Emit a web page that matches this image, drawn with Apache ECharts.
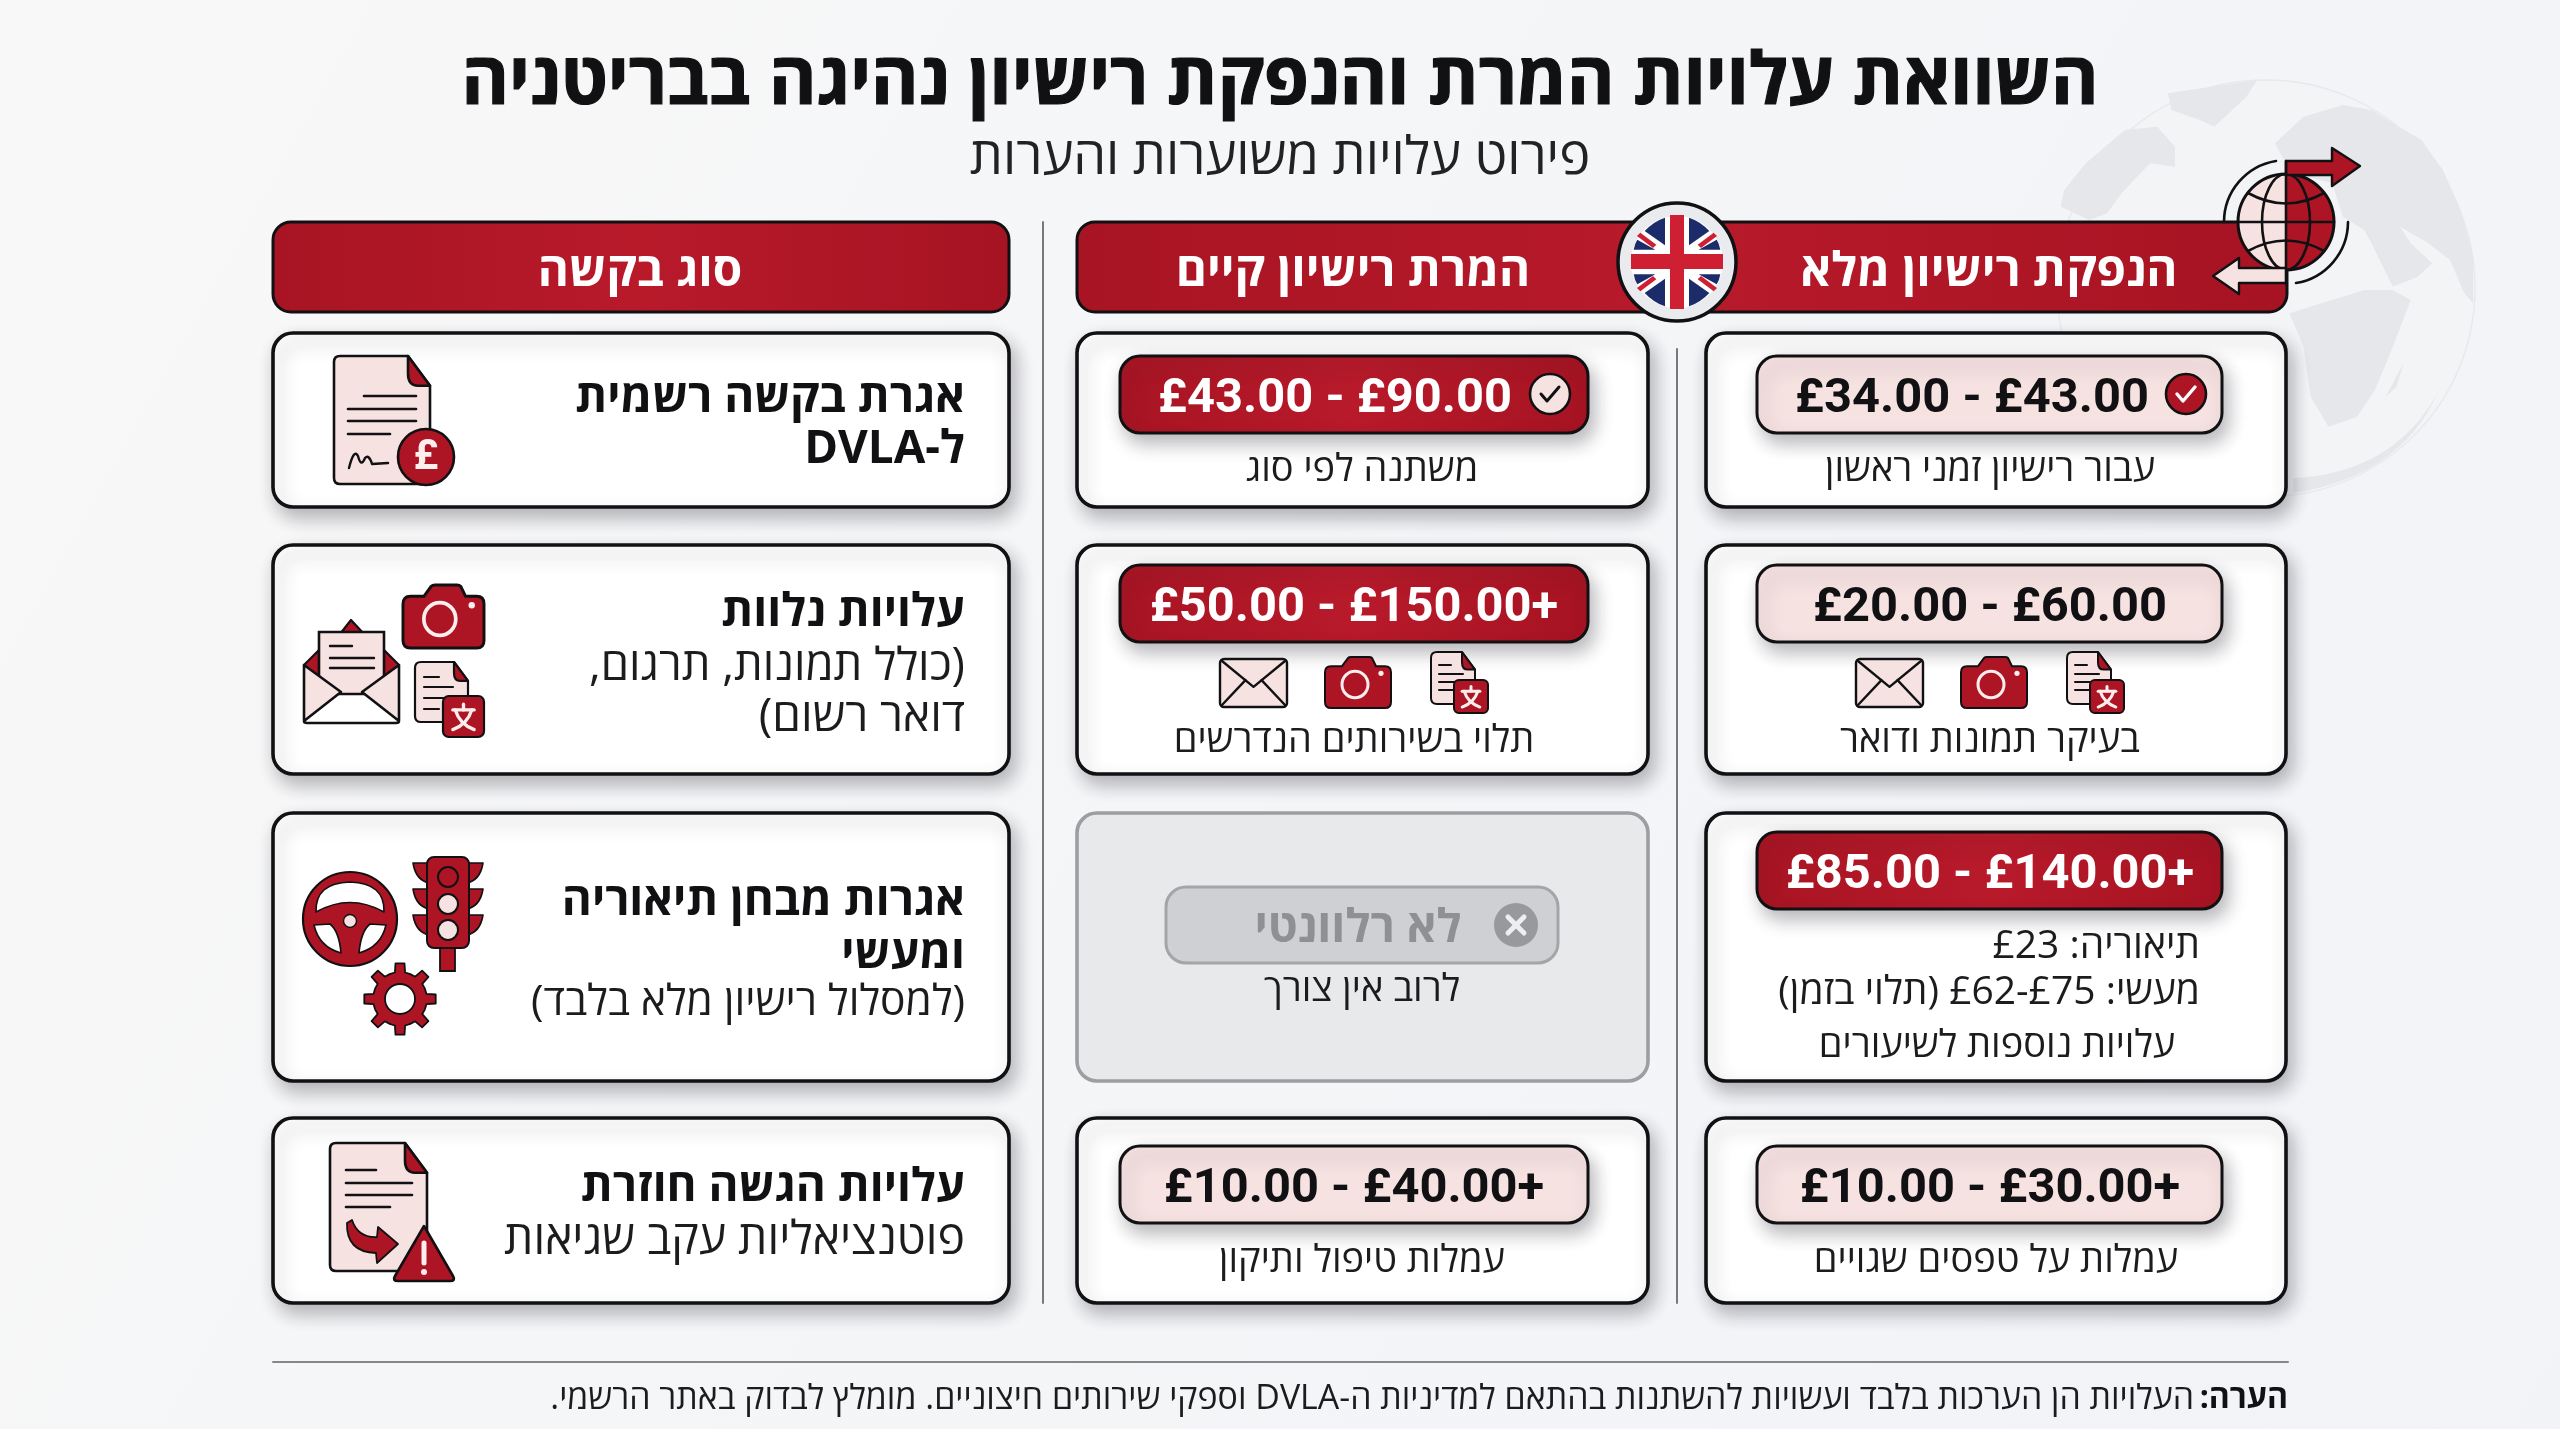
<!DOCTYPE html>
<html lang="he">
<head>
<meta charset="utf-8">
<title>השוואת עלויות</title>
<style>html,body{margin:0;padding:0;background:#f5f6f8}#c{width:2560px;height:1429px}</style>
<script src="https://cdn.jsdelivr.net/npm/echarts@6/dist/echarts.min.js"></script>
</head>
<body>
<div id="c"></div>
<script>
// ---------- content ----------
const titleText = 'השוואת עלויות המרת והנפקת רישיון נהיגה בבריטניה';
const subtitleText = 'פירוט עלויות משוערות והערות';
const columnHeaders = ['סוג בקשה', 'המרת רישיון קיים', 'הנפקת רישיון מלא'];
const requestTitles = [['אגרת בקשה רשמית', 'ל-DVLA'], ['עלויות נלוות'], ['אגרות מבחן תיאוריה', 'ומעשי'], ['עלויות הגשה חוזרת']];
const requestNotes = [[], ['(כולל תמונות, תרגום,', 'דואר רשום)'], ['(למסלול רישיון מלא בלבד)'], ['פוטנציאליות עקב שגיאות']];
const conversionCosts = ['£43.00 - £90.00', '£50.00 - £150.00+', 'לא רלוונטי', '£10.00 - £40.00+'];
const conversionNotes = ['משתנה לפי סוג', 'תלוי בשירותים הנדרשים', 'לרוב אין צורך', 'עמלות טיפול ותיקון'];
const fullCosts = ['£34.00 - £43.00', '£20.00 - £60.00', '£85.00 - £140.00+', '£10.00 - £30.00+'];
const fullNotes = ['עבור רישיון זמני ראשון', 'בעיקר תמונות ודואר', 'עלויות נוספות לשיעורים', 'עמלות על טפסים שגויים'];
const fullExamLines = ['תיאוריה: £23', 'מעשי: £62-£75 (תלוי בזמן)'];
const noteLabel = 'הערה:';
const noteText = 'העלויות הן הערכות בלבד ועשויות להשתנות בהתאם למדיניות ה-DVLA וספקי שירותים חיצוניים. מומלץ לבדוק באתר הרשמי.';

// ---------- style ----------
const HE = '"Open Sans","Liberation Sans",sans-serif';
const NUM = 'Roboto,"Liberation Sans",sans-serif';
const INK = '#111114', RED = '#ae1524', PINK = '#f7e2e2', GREYT = '#8f9094';
const SHADOW = {shadowBlur: 18, shadowOffsetX: 5, shadowOffsetY: 9, shadowColor: 'rgba(40,40,50,.32)'};
const redFill = {type: 'linear', x: 0, y: 0, x2: 1, y2: 0, colorStops: [{offset: 0, color: '#a81423'}, {offset: .5, color: '#b81a2a'}, {offset: 1, color: '#a61322'}]};

// layout of the grid
const colX = [[273, 736], [1077, 571], [1706, 580]];
const rowY = [[333, 174], [545, 229], [813, 268], [1118, 185]];

// ---------- helpers ----------
const E = [];
const pathNames = {};
let pathCount = 0;
function pathType(d) {
  if (!pathNames[d]) {
    pathNames[d] = 'svgp' + (pathCount++);
    echarts.graphic.registerShape(pathNames[d], echarts.graphic.extendPath(d));
  }
  return pathNames[d];
}
const bidi = s => /[^\u0590-\u05FF ]/.test(s) && /[\u0590-\u05FF]/.test(s)
  ? '\u202B' + s.replace(/£\d+-£\d+/, m => '\u202A' + m + '\u202C') + '\u202C' : s;
const txt = (s, x, y, size, o = {}) => ({type: 'text', style: Object.assign({text: bidi(s), x, y, fill: o.fill || INK, fontSize: size, fontWeight: o.w || 'normal', fontFamily: o.f || HE, align: o.a || 'center', verticalAlign: 'middle'}, o.heavy ? {stroke: o.fill || INK, lineWidth: o.heavy} : {})});
const rect = (x, y, w, h, r, fill, stroke, lw, extra) => ({type: 'rect', shape: {x, y, width: w, height: h, r}, style: Object.assign({fill, stroke, lineWidth: lw}, extra || {})});
const circ = (cx, cy, r, fill, stroke, lw) => ({type: 'circle', shape: {cx, cy, r}, style: {fill, stroke, lineWidth: lw || 0}});
const path = (d, fill, stroke, lw, extra) => ({type: pathType(d), style: Object.assign({fill: fill || 'none', stroke: stroke || 'none', lineWidth: lw || 0, lineJoin: 'round', lineCap: 'round'}, extra || {})});
const line = (x1, y1, x2, y2, c, lw) => ({type: 'line', shape: {x1, y1, x2, y2}, style: {stroke: c, lineWidth: lw, lineCap: 'round'}});
const grp = (x, y, children, sx, sy) => ({type: 'group', x, y, scaleX: sx == null ? 1 : sx, scaleY: sy == null ? (sx == null ? 1 : sx) : sy, children});

function docShape(w, h, f, lines, lw) {
  const r = 6;
  const kids = [
    path(`M${r} 0 L${w - f} 0 L${w} ${f * 1.35} L${w} ${h - r} Q${w} ${h} ${w - r} ${h} L${r} ${h} Q0 ${h} 0 ${h - r} L0 ${r} Q0 0 ${r} 0 Z`, PINK, INK, lw),
    path(`M${w - f} 0 L${w} ${f * 1.35} L${w - f * .55} ${f * 1.35} Q${w - f} ${f * 1.35} ${w - f} ${f * .8} Z`, RED, INK, lw)
  ];
  lines.forEach(l => kids.push(line(l[0], l[2], l[1], l[2], INK, lw)));
  return kids;
}
function transBadge(x, y, w, h, lw) {
  return grp(x, y, [
    rect(0, 0, w, h, w * .14, RED, INK, lw),
    line(w * .24, h * .34, w * .76, h * .34, '#fdeeee', lw * 1.5),
    line(w * .5, h * .2, w * .5, h * .34, '#fdeeee', lw * 1.5),
    path(`M${w * .7} ${h * .34} Q${w * .6} ${h * .68} ${w * .24} ${h * .82}`, 'none', '#fdeeee', lw * 1.5),
    path(`M${w * .3} ${h * .34} Q${w * .4} ${h * .68} ${w * .76} ${h * .82}`, 'none', '#fdeeee', lw * 1.5)
  ]);
}
function smallDoc(x, y) {
  return grp(x, y, docShape(44, 52, 13, [[8, 20, 13], [8, 32, 22], [8, 30, 30], [8, 22, 38]], 2).concat([transBadge(23, 28, 34, 33, 2)]));
}
function camera(x, y, w, h, lw) {
  const u = w / 66, v = h / 50;
  return grp(x, y, [
    path('M6 9 L17 9 L23 1 Q24 0 26 0 L44 0 Q46 0 47 1 L51 9 L60 9 Q66 9 66 15 L66 44 Q66 50 60 50 L6 50 Q0 50 0 44 L0 15 Q0 9 6 9 Z', RED, INK, lw),
    circ(30, 27, 13, 'none', '#fdeeee', 3),
    circ(56, 16, 2.6, '#fdeeee')
  ], u, v);
}
function envelope(x, y, w, h, lw) {
  return grp(x, y, [
    rect(0, 0, w, h, 4, PINK, INK, lw),
    path(`M2 2 L${w / 2} ${h * .58} L${w - 2} 2`, 'none', INK, lw),
    line(2, h - 2, w * .38, h * .44, INK, lw),
    line(w - 2, h - 2, w * .62, h * .44, INK, lw)
  ]);
}
function serviceIcons(dx) {
  return [envelope(1220 + dx, 659, 67, 48, 2.4), camera(1325 + dx, 657, 66, 51, 2), smallDoc(1431 + dx, 652)];
}
function gearPath(R, r) {
  let d = '';
  const n = 8;
  for (let i = 0; i < n; i++) {
    const a = i / n * Math.PI * 2, s = Math.PI * 2 / n;
    const pts = [[a - s * .5, r], [a - s * .24, r], [a - s * .16, R], [a + s * .16, R], [a + s * .24, r]];
    pts.forEach((p, j) => { d += (i === 0 && j === 0 ? 'M' : 'L') + (Math.cos(p[0]) * p[1]).toFixed(1) + ' ' + (Math.sin(p[0]) * p[1]).toFixed(1) + ' '; });
  }
  return d + 'Z';
}

// ---------- background ----------
E.push(rect(0, 0, 2560, 1429, 0, {type: 'linear', x: 0, y: 0, x2: 1, y2: 1, colorStops: [{offset: 0, color: '#f8f8f8'}, {offset: 1, color: '#f1f3f7'}]}));
const LAND = '#e6e7eb';
E.push(grp(2000, 30, [
  {type: 'ellipse', shape: {cx: 745, cy: 775, rx: 585, ry: 625}, style: {fill: '#f3f4f6', stroke: '#e8e9ec', lineWidth: 4}},
  path('M850 260 L960 225 L1040 240 L1100 280 L1180 330 L1240 420 L1290 540 L1325 680 L1325 820 L1300 790 L1260 690 L1200 640 L1120 590 L1150 640 L1210 700 L1170 740 L1100 770 L1040 640 L1020 600 L960 560 L930 460 L860 440 L800 400 L770 340 Z', LAND),
  path('M810 850 L1020 780 L1100 780 L1150 810 L1100 950 L1050 1080 L1000 1160 L920 1190 L870 1100 L850 950 Z', LAND),
  path('M470 190 L720 150 L690 200 L600 290 L560 270 L480 240 Z', LAND),
  path('M350 300 L440 290 L490 350 L490 410 L420 400 L340 490 L300 550 L250 570 L170 530 L180 480 L240 400 Z', LAND),
  path('M1130 1000 L1080 1100 L1110 1070 Z', LAND),
  path('M820 1390 Q1120 1340 1225 1090 Q1100 1330 820 1345 Z', LAND)
], 1 / 2.8, 1 / 3));

// ---------- title ----------
E.push(txt(titleText, 1280, 83, 72.3, {w: 'bold', heavy: 1.2}));
E.push(txt(subtitleText, 1280, 159, 52.3, {fill: '#222'}));

// ---------- dividers ----------
E.push(line(1043, 222, 1043, 1303, '#77797e', 2));
E.push(line(1677, 349, 1677, 1303, '#77797e', 2));

// ---------- headers ----------
E.push(rect(273, 222, 736, 90, 18, redFill, INK, 3));
E.push(rect(1077, 222, 1210, 90, 18, redFill, INK, 3));
E.push(txt(columnHeaders[0], 640, 272, 47.5, {w: 'bold', fill: '#fff'}));
E.push(txt(columnHeaders[1], 1353, 272, 47.5, {w: 'bold', fill: '#fff'}));
E.push(txt(columnHeaders[2], 1989, 272, 47.5, {w: 'bold', fill: '#fff'}));

// UK flag badge
const quad = (sx, sy) => grp(0, 0, [
  path('M-36 -133 Q-70 -122 -97 -93 L-36 -50 Z', '#1c2c6b'),
  path('M-130 -37 L-65 -37 L-119 -67 Q-127 -55 -130 -37 Z', '#1c2c6b'),
  path('M-120 -78 L-110 -88 L-62 -52 L-72 -42 Z', '#cf1f33')
], sx, sy);
E.push(grp(1677, 262, [
  circ(0, 0, 59, '#e9ebef', INK, 3.5),
  circ(0, 0, 46, '#ffffff'),
  grp(0, 0, [quad(1, 1), quad(-1, 1), quad(1, -1), quad(-1, -1)], 1 / 3),
  rect(-46, -8, 92, 15, 0, '#cf1f33'),
  rect(-7, -47, 14, 94, 0, '#cf1f33')
]));

// globe badge
E.push(grp(2286, 222, [
  path('M0 -48 A48 48 0 0 0 0 48 Z', PINK),
  path('M0 -48 A48 48 0 0 1 0 48 Z', RED),
  circ(0, 0, 48, 'none', INK, 3),
  {type: 'ellipse', shape: {cx: 0, cy: 0, rx: 24, ry: 48}, style: {fill: 'none', stroke: INK, lineWidth: 2.6}},
  line(-48, 0, 48, 0, INK, 2.6),
  path('M-38 -29 Q0 -8 38 -29', 'none', INK, 2.6),
  path('M-38 29 Q0 8 38 29', 'none', INK, 2.6),
  path('M-62 0 A62 62 0 0 1 -10 -61', 'none', INK, 2.6),
  path('M62 0 A62 62 0 0 1 10 61', 'none', INK, 2.6),
  path('M0 -61 L46 -61 L46 -74 L74 -56 L46 -36 L46 -47 L0 -47 Z', RED, INK, 2.4),
  path('M0 46 L-47 46 L-47 36 L-73 54 L-47 72 L-47 61 L0 61', PINK, INK, 2.4),
  line(0, -61, 0, 62, INK, 2.6)
]));

// ---------- cards ----------
rowY.forEach((r, i) => {
  E.push(rect(colX[0][0], r[0], colX[0][1], r[1], 20, '#fff', INK, 3.6, SHADOW));
  const grey = i === 2;
  E.push(rect(colX[1][0], r[0], colX[1][1], r[1], 20, grey ? '#e8e9eb' : '#fff', grey ? '#9c9ea2' : INK, 3.6, grey ? {} : SHADOW));
  E.push(rect(colX[2][0], r[0], colX[2][1], r[1], 20, '#fff', INK, 3.6, SHADOW));
});

// ---------- request column text ----------
const R = 965, titleY = [[399, 450], [613], [902, 955], [1188]], noteY = [[], [667, 718], [1003], [1241]];
const noteSize = [[], [45.4, 46], [42.5], [46.3]];
requestTitles.forEach((t, i) => t.forEach((s, j) => E.push(txt(s, R, titleY[i][j], 45.8, {w: 'bold', a: 'right'}))));
requestNotes.forEach((t, i) => t.forEach((s, j) => E.push(txt(s, R, noteY[i][j], noteSize[i][j], {a: 'right', fill: '#1c1c1f'}))));

// ---------- price pills ----------
const pillY = [[356, 77], [565, 77], [832, 77], [1146, 77]];
const midPill = [1120, 468], fullPill = [1757, 465];
const midTone = ['red', 'red', null, 'pink'], fullTone = ['pink', 'pink', 'red', 'pink'];
function pill(box, yh, tone, label, cx) {
  const red = tone === 'red';
  E.push(rect(box[0], yh[0], box[1], yh[1], 20, red ? redFill : PINK, INK, 3, SHADOW));
  E.push(txt(label, cx, yh[0] + yh[1] / 2 + 5, 48.8, {w: 'bold', f: NUM, fill: red ? '#fff' : INK}));
}
conversionCosts.forEach((c, i) => { if (midTone[i]) pill(midPill, pillY[i], midTone[i], c, i === 0 ? 1335 : 1354); });
fullCosts.forEach((c, i) => pill(fullPill, pillY[i], fullTone[i], c, i === 0 ? 1972 : 1990));

// check marks
E.push(grp(1550, 394, [circ(0, 0, 20, PINK, INK, 2.6), path('M-9 0 L-3 7 L9 -7', 'none', INK, 3)]));
E.push(grp(2186, 394, [circ(0, 0, 20, RED, INK, 2.6), path('M-9 0 L-3 7 L9 -7', 'none', '#fff', 3.4)]));

// not relevant pill
E.push(rect(1166, 887, 392, 76, 20, '#cfd0d3', '#a3a5a8', 3));
E.push(txt(conversionCosts[2], 1358, 929, 46, {w: 'bold', fill: GREYT}));
E.push(grp(1516, 925, [circ(0, 0, 22, '#98999d'), line(-8, -8, 8, 8, '#eeeef0', 5), line(8, -8, -8, 8, '#eeeef0', 5)]));

// ---------- sub notes ----------
const subSize = 38;
const midX = [1362, 1354, 1362, 1362], midY = [470, 741, 990, 1261];
conversionNotes.forEach((s, i) => E.push(txt(s, midX[i], midY[i], subSize, {fill: '#1c1c1f'})));
const fullX = [1990, 1990, 1997, 1996], fullY = [470, 741, 1046, 1261];
fullNotes.forEach((s, i) => E.push(txt(s, fullX[i], fullY[i], subSize, {fill: '#1c1c1f'})));
fullExamLines.forEach((s, i) => E.push(txt(s, 2200, [947, 993][i], 39, {a: 'right', fill: '#1c1c1f'})));

// service icons rows
E.push(...serviceIcons(0), ...serviceIcons(636));

// ---------- left column icons ----------
// row 1: document with pound
E.push(grp(334, 356, docShape(96, 128, 22, [[30, 82, 40], [14, 82, 53], [14, 82, 65], [14, 56, 78]], 2.6).concat([
  path('M15 112 Q20 92 24 100 Q27 112 31 102 Q35 98 38 108 L54 107', 'none', INK, 2.4)
])));
E.push(circ(426, 457, 28, RED, INK, 2.6));
E.push(txt('£', 426, 458, 42, {w: 'bold', f: NUM, fill: '#fdeeee'}));

// row 2: envelope, camera, document
E.push(grp(304, 620, [
  path('M47 0 L60 14 L36 14 Z', RED, INK, 2.2),
  path('M0 45 L15 30 L15 60 Z', RED, INK, 2.2),
  path('M95 45 L80 30 L80 60 Z', RED, INK, 2.2),
  rect(15, 12, 65, 62, 0, PINK, INK, 2.6),
  line(26, 26, 48, 26, INK, 2.4), line(26, 38, 70, 38, INK, 2.4), line(26, 48, 70, 48, INK, 2.4),
  path('M0 45 L37 72 L0 101 Q0 103 3 103 L92 103 Q95 103 95 101 L58 72 L95 45 L95 100 Q95 103 92 103 L3 103 Q0 103 0 100 Z', PINK, INK, 2.6)
]));
E.push(camera(403, 585, 81, 63, 2.4));
E.push(grp(415, 662, docShape(53, 60, 14, [[9, 24, 15], [9, 38, 25], [9, 30, 36], [9, 24, 47]], 2.2)));
E.push(transBadge(443, 696, 41, 41, 2.2));

// row 3: wheel, traffic light, gear
E.push(grp(350, 919, [
  circ(0, 0, 47, RED, INK, 2.2),
  path('M-34 -7 Q-35 -36 0 -37 Q35 -36 34 -7 Q0 -26 -34 -7 Z', '#fff', INK, 1.6),
  path('M-36 6 L-20 5 Q-11 12 -9 34 Q-31 28 -36 6 Z', '#fff', INK, 1.6),
  path('M36 6 L20 5 Q11 12 9 34 Q31 28 36 6 Z', '#fff', INK, 1.6),
  circ(0, 2, 6.5, PINK, INK, 1.4)
]));
E.push(grp(448, 857, [
  rect(-8, 88, 15, 26, 0, RED, INK, 1.8),
  ...[6, 32, 58].flatMap(y => [
    path(`M-35 ${y} L-18 ${y} L-18 ${y + 20} Q-32 ${y + 18} -35 ${y} Z`, RED, INK, 1.6),
    path(`M35 ${y} L18 ${y} L18 ${y + 20} Q32 ${y + 18} 35 ${y} Z`, RED, INK, 1.6)
  ]),
  rect(-21, 0, 42, 91, 7, RED, INK, 2),
  circ(0, 20, 10, RED, INK, 2),
  circ(0, 47, 10, PINK, INK, 2),
  circ(0, 73, 10, PINK, INK, 2)
]));
E.push(grp(400, 999, [path(gearPath(36, 27), RED, INK, 1.8), circ(0, 0, 15, '#fff', INK, 1.8)]));

// row 4: document with arrow and warning
E.push(grp(330, 1143, docShape(97, 128, 22, [[16, 46, 27], [16, 82, 40], [16, 82, 52], [16, 60, 64]], 2.6)));
E.push(path('M347 1223 Q346 1252 376 1253 L377 1263 L398 1244 L378 1227 L377 1237 Q358 1238 352 1220 Z', RED, INK, 1.8));
E.push(path('M424 1226 L453 1276 Q456 1281 450 1281 L398 1281 Q392 1281 395 1276 Z', RED, INK, 2.6));
E.push(line(424, 1243, 424, 1263, '#fdeeee', 5));
E.push(circ(424, 1272, 3, '#fdeeee'));

// ---------- footnote ----------
E.push(line(273, 1362, 2288, 1362, '#85878b', 2));
E.push(txt(noteLabel, 2288, 1399, 32, {w: 'bold', a: 'right'}));
E.push(txt(noteText, 2194, 1399, 33.9, {a: 'right', fill: '#1c1c1f'}));

const chart = echarts.init(document.getElementById('c'), null, {renderer: 'canvas', width: 2560, height: 1429});
chart.setOption({animation: false, graphic: {elements: E}});
</script>
</body>
</html>
